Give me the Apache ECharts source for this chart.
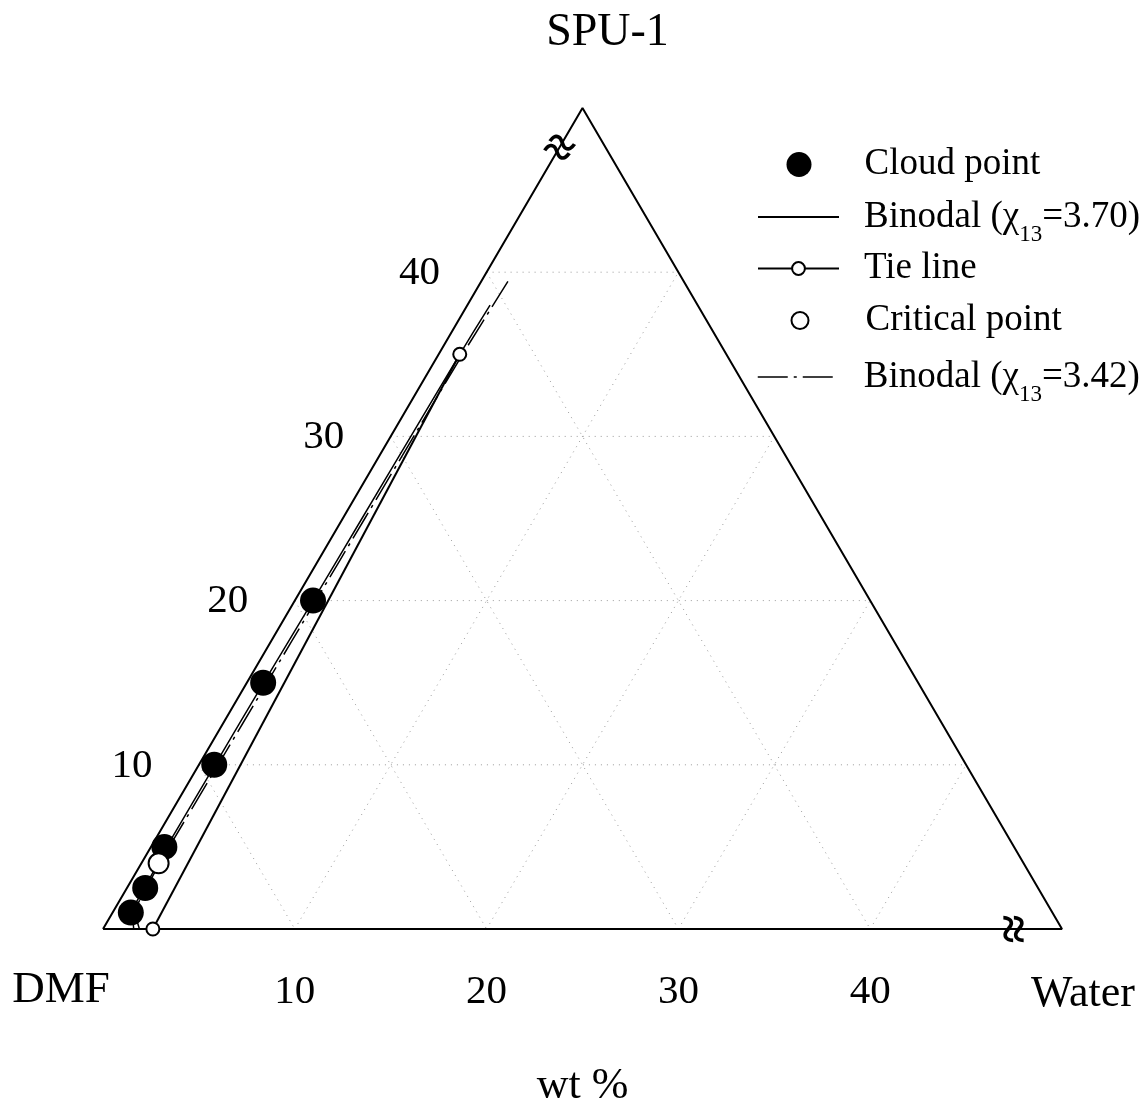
<!DOCTYPE html>
<html>
<head>
<meta charset="utf-8">
<script src="https://cdn.jsdelivr.net/npm/echarts@6/dist/echarts.min.js"></script>
<style>
  html, body { margin: 0; padding: 0; background: #fff; }
  #chart { width: 1146px; height: 1108px; }
</style>
</head>
<body>
<div id="chart"></div>
<script>
// compositions are [polymer wt%, water wt%], DMF is the remainder
const SIDE = 50;
const ticks = [10, 20, 30, 40];
const cloudPoints = [[1, 0.95], [2.5, 0.95], [5, 0.7], [10, 0.8], [15, 0.85], [20, 0.95]];
const criticalPoint = [[4, 0.9]];
const tieLine = [[0, 2.6], [35, 1.1]];
const binodal370 = [[0, 1.6], [1, 1.05], [2.5, 0.92], [4, 0.86], [5, 0.82], [10, 0.84], [15, 0.88],
  [20, 0.95], [25, 1.0], [30, 1.05], [35, 1.1], [38, 1.18]];
const binodal342 = [[0, 1.9], [1, 1.2], [2.5, 1.02], [4, 0.96], [5, 0.95], [10, 1.0], [15, 1.05],
  [20, 1.1], [25, 1.15], [30, 1.2], [35, 1.25], [39.6, 1.4]];
const breakMarks = [[47.4, 0], [0, 47.7]];

const FONT = "'Liberation Serif', 'Times New Roman', serif";
const DASHDOT = [30, 6, 3, 6];
const S3 = Math.sqrt(3) / 2;

// ternary -> cartesian, x along water axis, y up to the polymer apex
const tern = ([p, w]) => [w + p / 2, p * S3];

const gridSeries = [];
ticks.forEach((k) => {
  [[[k, 0], [k, SIDE - k]], [[0, k], [SIDE - k, k]], [[k, 0], [0, k]]].forEach((seg) => {
    gridSeries.push({
      type: 'line',
      data: seg.map(tern),
      symbol: 'none',
      silent: true,
      z: 1,
      lineStyle: { color: '#9a9a9a', width: 1, type: [1, 5] },
    });
  });
});

const labelData = [];
ticks.forEach((k) => {
  labelData.push({ name: String(k), value: tern([k, 0]), label: { offset: [-67, 1] } });
  labelData.push({ name: String(k), value: tern([0, k]), label: { offset: [0, 63] } });
});
labelData.push({ name: 'DMF', value: tern([0, 0]), label: { offset: [-42, 61], fontSize: 45 } });
labelData.push({ name: 'Water', value: tern([0, SIDE]), label: { offset: [21, 65], fontSize: 44 } });
labelData.push({ name: 'SPU-1', value: tern([SIDE, 0]), label: { offset: [25, -75], fontSize: 46 } });
labelData.push({ name: '≈', value: tern(breakMarks[0]), label: { rotate: -30, fontSize: 52, fontWeight: 'bold' } });
labelData.push({ name: '≈', value: tern(breakMarks[1]), label: { rotate: 90, fontSize: 52, fontWeight: 'bold' } });

const legendRows = [
  { name: 'Cloud point', h: 25, top: 146, left: 786.5 },
  { name: 'Binodal (χ13=3.70)', h: 14, top: 188, left: 757, noSymbol: true },
  { name: 'Tie line', h: 16, top: 250, left: 757 },
  { name: 'Critical point', h: 17, top: 302, left: 790.5 },
  { name: 'Binodal (χ13=3.42)', h: 14, top: 348, left: 757, noSymbol: true, dash: true },
];

const legends = legendRows.map((r) => {
  const lg = {
    data: [r.name],
    orient: 'vertical',
    left: r.left,
    top: r.top,
    padding: 0,
    itemWidth: 81,
    itemHeight: r.h,
    selectedMode: false,
    formatter: (name) => name.replace('χ13', '{c|χ}{s|13}'),
    textStyle: {
      fontFamily: FONT,
      fontSize: 37,
      lineHeight: 36,
      color: '#000',
      padding: [0, 0, 0, 20],
      rich: {
        c: { fontFamily: FONT, fontSize: 37, lineHeight: 36, color: '#000' },
        s: { fontFamily: FONT, fontSize: 23, lineHeight: 22, padding: [35, 0, 0, 0], color: '#000' },
      },
    },
  };
  if (r.noSymbol) lg.itemStyle = { color: 'rgba(0,0,0,0)', borderWidth: 0 };
  if (r.dash) lg.lineStyle = { type: DASHDOT, width: 1.5, color: '#000' };
  return lg;
});

const chart = echarts.init(document.getElementById('chart'));
chart.setOption({
  animation: false,
  backgroundColor: '#fff',
  grid: { left: 103, top: 108, width: 959, height: 821, outerBoundsMode: 'none', containLabel: false },
  xAxis: {
    type: 'value', min: 0, max: SIDE,
    axisLine: { show: false }, axisTick: { show: false }, axisLabel: { show: false },
    splitLine: { show: false },
    name: 'wt %', nameLocation: 'middle', nameGap: 135,
    nameTextStyle: { fontFamily: FONT, fontSize: 44, color: '#000' },
  },
  yAxis: {
    type: 'value', min: 0, max: SIDE * S3, show: false,
  },
  legend: legends,
  series: [
    ...gridSeries,
    {
      type: 'line',
      data: [[0, 0], [0, SIDE], [SIDE, 0], [0, 0]].map(tern),
      symbol: 'none',
      silent: true,
      z: 2,
      lineStyle: { color: '#000', width: 2 },
    },
    {
      name: 'Binodal (χ13=3.70)',
      type: 'line',
      data: binodal370.map(tern),
      smooth: 0.3,
      symbol: 'none',
      z: 3,
      itemStyle: { color: '#000' },
      lineStyle: { color: '#000', width: 1.5 },
    },
    {
      name: 'Binodal (χ13=3.42)',
      type: 'line',
      data: binodal342.map(tern),
      smooth: 0.3,
      symbol: 'none',
      z: 3,
      itemStyle: { color: '#000' },
      lineStyle: { color: '#000', width: 1.5, type: DASHDOT },
    },
    {
      name: 'Tie line',
      type: 'line',
      data: tieLine.map(tern),
      symbol: 'emptyCircle',
      symbolSize: 13,
      z: 4,
      itemStyle: { color: '#000', borderWidth: 2 },
      lineStyle: { color: '#000', width: 2 },
    },
    {
      name: 'Cloud point',
      type: 'scatter',
      data: cloudPoints.map(tern),
      symbol: 'circle',
      symbolSize: 26,
      z: 5,
      itemStyle: { color: '#000', opacity: 1 },
    },
    {
      name: 'Critical point',
      type: 'scatter',
      data: criticalPoint.map(tern),
      symbol: 'emptyCircle',
      symbolSize: 20,
      z: 6,
      itemStyle: { color: '#000', borderWidth: 2.5, opacity: 1 },
    },
    {
      type: 'scatter',
      data: labelData,
      symbolSize: 1,
      silent: true,
      z: 7,
      itemStyle: { color: 'rgba(0,0,0,0)', opacity: 1 },
      label: {
        show: true,
        position: 'inside',
        formatter: '{b}',
        fontFamily: FONT,
        fontSize: 41,
        color: '#000',
      },
    },
  ],
});
</script>
</body>
</html>
